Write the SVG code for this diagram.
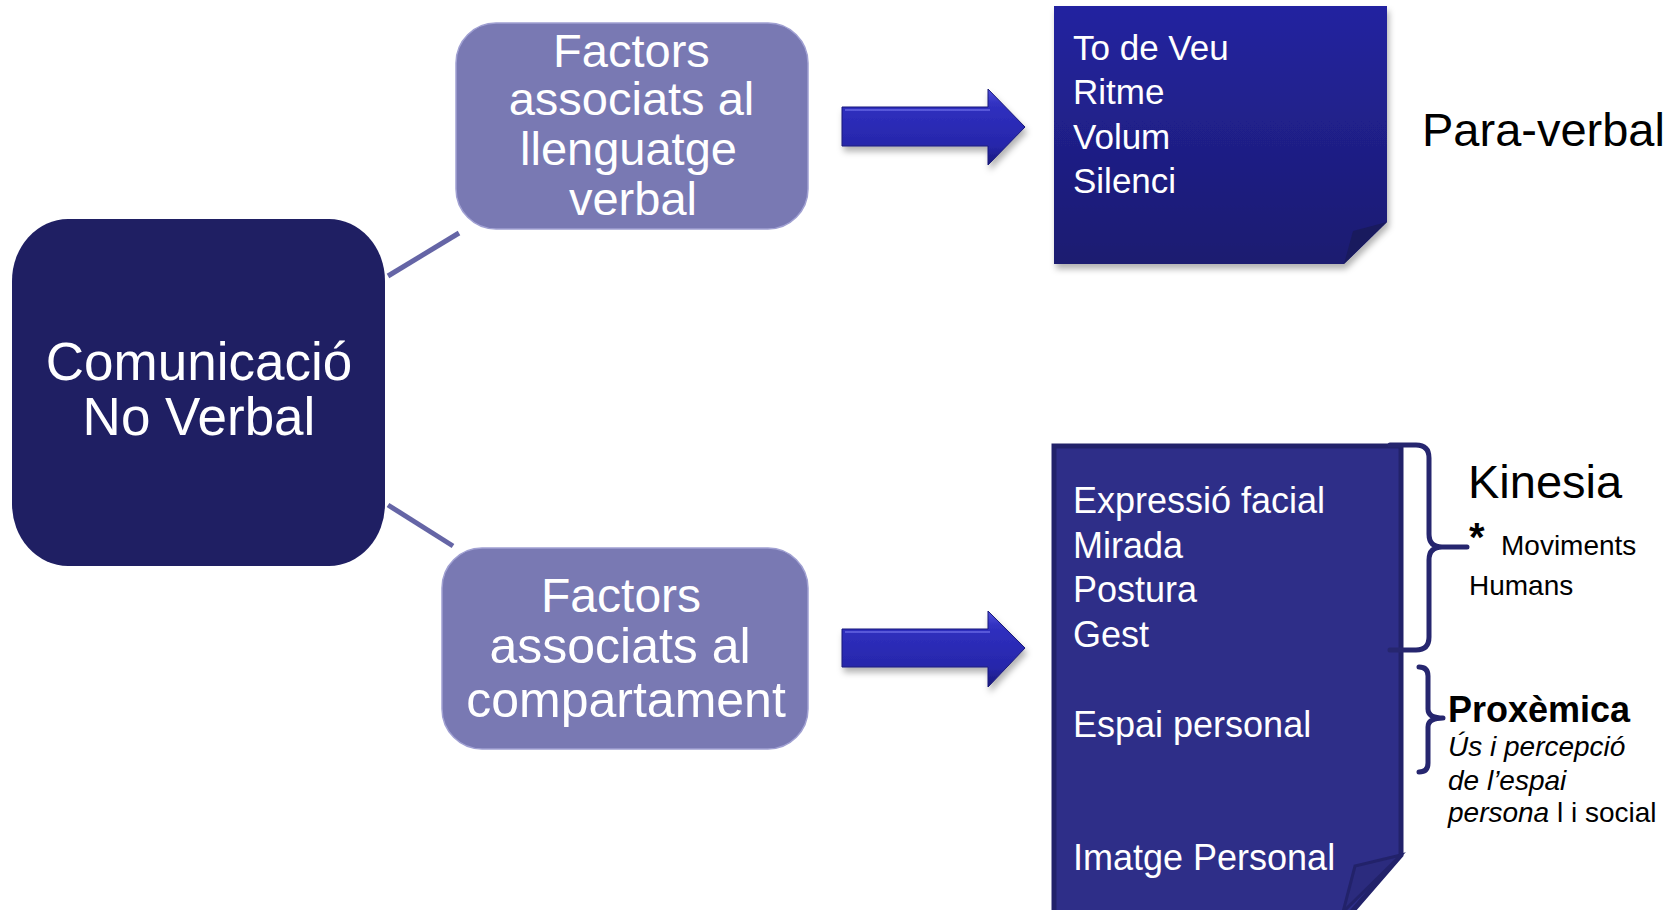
<svg xmlns="http://www.w3.org/2000/svg" width="1671" height="910" viewBox="0 0 1671 910">
<style>
  text { font-family: "Liberation Sans", Arial, sans-serif; }
  .w { fill: #ffffff; }
  .k { fill: #000000; }
  .fac { fill: #7979b3; stroke: #a0a0d2; stroke-width: 1.5; }
  .conn { stroke: #6565a6; stroke-width: 5; fill: none; }
  .brace { stroke: #26266f; stroke-width: 5; fill: none; stroke-linecap: round; stroke-linejoin: round; }
</style>
<defs>
  <linearGradient id="gTop" x1="0" y1="0" x2="0" y2="1">
    <stop offset="0" stop-color="#2424a0"/>
    <stop offset="1" stop-color="#1b1b70"/>
  </linearGradient>
  <linearGradient id="gArrow" x1="0" y1="0" x2="0" y2="1">
    <stop offset="0" stop-color="#5050dc"/>
    <stop offset="0.2" stop-color="#3030c0"/>
    <stop offset="0.75" stop-color="#2626aa"/>
    <stop offset="1" stop-color="#18187a"/>
  </linearGradient>
  <filter id="sh" x="-10%" y="-10%" width="130%" height="130%">
    <feDropShadow dx="2" dy="5" stdDeviation="3" flood-color="#000" flood-opacity="0.3"/>
  </filter>
</defs>

<g id="connectors">
  <line class="conn" x1="388" y1="276" x2="459" y2="233"/>
  <line class="conn" x1="388" y1="505" x2="453" y2="546"/>
  <g id="arrow-top" filter="url(#sh)">
    <path d="M842,107 H988 V89 L1025,127 L988,165 V146 H842 Z" fill="url(#gArrow)" stroke="#1a1a7a" stroke-width="1"/>
    <path d="M845,110 H990" stroke="#6a6ae6" stroke-width="2" fill="none" opacity="0.7"/>
  </g>
  <g id="arrow-bottom" filter="url(#sh)">
    <path d="M842,629 H988 V611 L1025,648 L988,687 V667 H842 Z" fill="url(#gArrow)" stroke="#1a1a7a" stroke-width="1"/>
    <path d="M845,632 H990" stroke="#6a6ae6" stroke-width="2" fill="none" opacity="0.7"/>
  </g>
</g>

<g id="node-comunicacio">
  <rect x="12" y="219" width="373" height="347" rx="56" ry="62" fill="#1f1f63"/>
  <text class="w" x="199" y="380" font-size="53" text-anchor="middle">Comunicació</text>
  <text class="w" x="199" y="435" font-size="53" text-anchor="middle">No Verbal</text>
</g>

<g id="node-factors-verbal">
  <rect class="fac" x="456" y="23" width="352" height="206" rx="40"/>
  <text class="w" font-size="47" text-anchor="middle">
    <tspan x="638" y="67">Factors</tspan>
    <tspan x="638" y="115">associats al</tspan>
    <tspan x="635" y="165">llenguatge</tspan>
    <tspan x="633" y="215">verbal</tspan>
  </text>
</g>

<g id="node-factors-comportament">
  <rect class="fac" x="442" y="548" width="366" height="201" rx="40"/>
  <text class="w" font-size="50" text-anchor="middle">
    <tspan x="628" y="612" font-size="48">Factors</tspan>
    <tspan x="627" y="663">associats al</tspan>
    <tspan x="626" y="717">compartament</tspan>
  </text>
</g>

<g id="node-paraverbal-list">
  <path d="M1054,6 H1387 V222 L1344,264 H1054 Z" fill="url(#gTop)" filter="url(#sh)"/>
  <path d="M1387,222 L1353,231 L1344,264 Z" fill="#191a5e"/>
  <text class="w" font-size="35">
    <tspan x="1073" y="60">To de Veu</tspan>
    <tspan x="1073" y="104">Ritme</tspan>
    <tspan x="1073" y="149">Volum</tspan>
    <tspan x="1073" y="193">Silenci</tspan>
  </text>
</g>

<g id="label-paraverbal">
  <text class="k" x="1422" y="146" font-size="47">Para-verbal</text>
</g>

<g id="node-kinesia-list">
  <path d="M1054,446 H1401 V855 L1350,914 H1054 Z" fill="#2e2e88" stroke="#22226a" stroke-width="5"/>
  <path d="M1401,855 L1355,866 L1343,912 Z" fill="#2b2b7e" stroke="#22226a" stroke-width="3"/>
  <text class="w" font-size="36">
    <tspan x="1073" y="513">Expressió facial</tspan>
    <tspan x="1073" y="558">Mirada</tspan>
    <tspan x="1073" y="602">Postura</tspan>
    <tspan x="1073" y="647">Gest</tspan>
    <tspan x="1073" y="737">Espai personal</tspan>
    <tspan x="1073" y="870">Imatge Personal</tspan>
  </text>
</g>

<g id="brace-kinesia">
  <path class="brace" d="M1390,445 H1416 Q1429,445 1429,458 V534 Q1429,547 1442,547 H1467 M1442,547 Q1429,547 1429,560 V637 Q1429,650 1416,650 H1390"/>
</g>

<g id="label-kinesia">
  <text class="k" x="1468" y="498" font-size="47">Kinesia</text>
  <text class="k" x="1469" y="551" font-size="40" font-weight="bold">*</text>
  <text class="k" x="1501" y="555" font-size="28">Moviments</text>
  <text class="k" x="1469" y="595" font-size="28">Humans</text>
</g>

<g id="brace-proxemica">
  <path class="brace" d="M1419,667 Q1428,667 1428,676 V709 Q1428,718 1443,718 M1443,718 Q1428,718 1428,727 V763 Q1428,772 1419,772"/>
</g>

<g id="label-proxemica">
  <text class="k" x="1448" y="722" font-size="36" font-weight="bold">Proxèmica</text>
  <text class="k" x="1448" y="756" font-size="28" font-style="italic">Ús i percepció</text>
  <text class="k" x="1448" y="790" font-size="28" font-style="italic">de l’espai</text>
  <text class="k" x="1448" y="822" font-size="28"><tspan font-style="italic">persona</tspan> l i social</text>
</g>
</svg>
